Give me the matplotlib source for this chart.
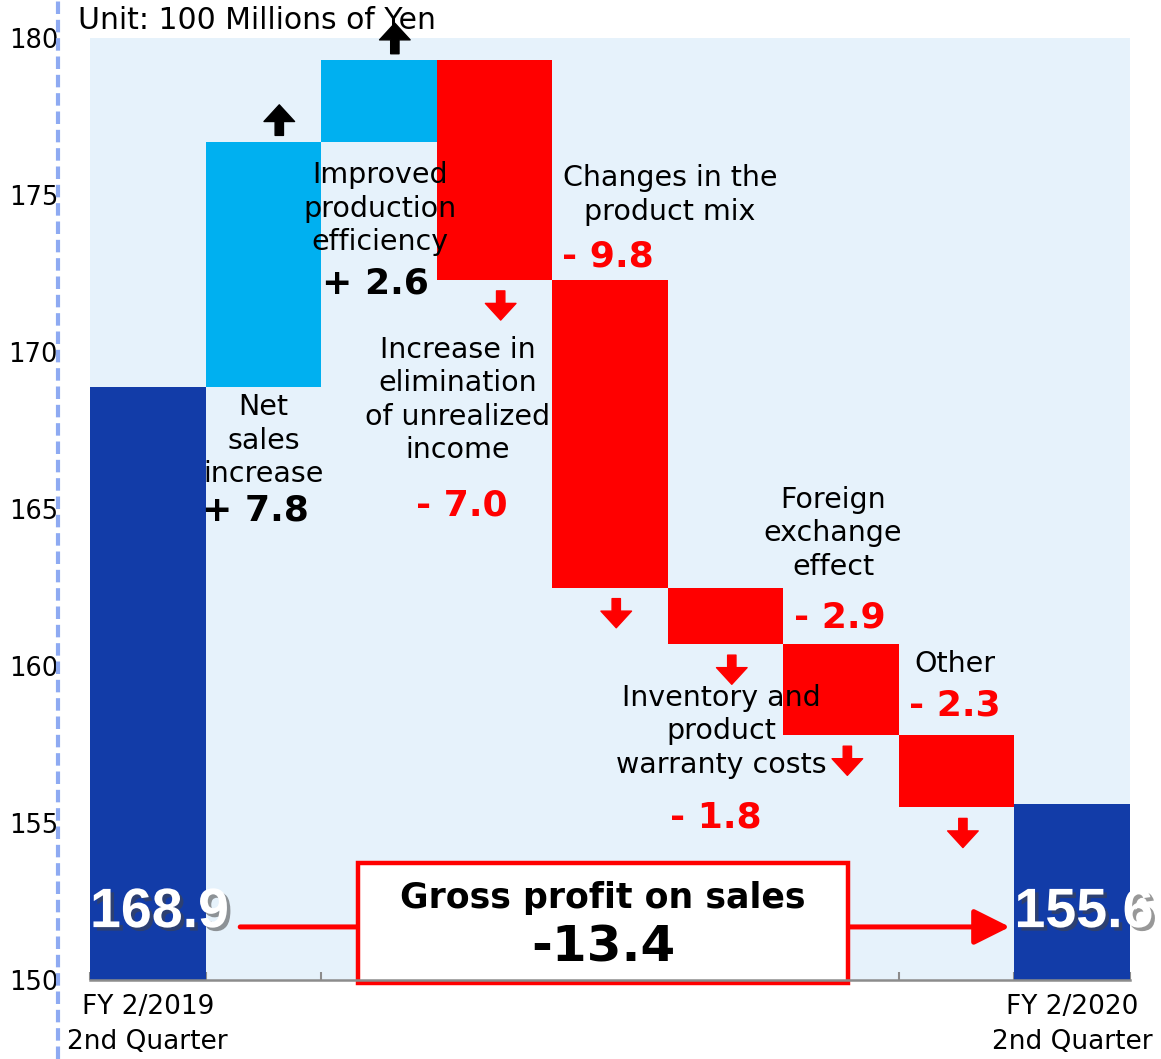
import matplotlib
matplotlib.use("Agg")
import matplotlib.pyplot as plt
import matplotlib.patheffects as pe
from matplotlib.patches import Rectangle
from matplotlib.transforms import offset_copy

plt.rcParams['font.family'] = ['DejaVu Sans']

# 売上総利益の増減要因（単位：億円）
start_value = 168.9
end_value = 155.6
changes = [7.8, 2.6, -7.0, -9.8, -1.8, -2.9, -2.3]
change_names = ['Net\nsales\nincrease',
                'Improved\nproduction\nefficiency',
                'Increase in\nelimination\nof unrealized\nincome',
                'Changes in the\nproduct mix',
                'Inventory and\nproduct\nwarranty costs',
                'Foreign\nexchange\neffect',
                'Other']
change_labels = ['+ 7.8', '+ 2.6', '- 7.0', '- 9.8', '- 1.8', '- 2.9', '- 2.3']
total_change = '-13.4'
period_labels = ['FY 2/2019\n2nd Quarter', 'FY 2/2020\n2nd Quarter']

DARK_BLUE = '#123ca8'
LIGHT_BLUE = '#00b0f0'
RED = '#ff0000'
BG = '#e6f2fb'

fig = plt.figure(figsize=(11.61, 10.59), dpi=100)
ax = fig.add_axes([0.0775, 0.0746, 0.8958, 0.8895])
ax.set_facecolor(BG)

# 期首・期末の棒
n = len(changes) + 2
ax.bar(0, start_value - 150, bottom=150, width=1.0, color=DARK_BLUE, zorder=3)
ax.bar(n - 1, end_value - 150, bottom=150, width=1.0, color=DARK_BLUE, zorder=3)

# 増減の浮動棒
level = start_value
spans = []
for i, c in enumerate(changes, start=1):
    bottom = level if c > 0 else level + c
    ax.bar(i, abs(c), bottom=bottom, width=1.0,
           color=LIGHT_BLUE if c > 0 else RED, zorder=3)
    level += c
    spans.append((bottom, bottom + abs(c)))

ax.set_xlim(-0.5, n - 0.5)
ax.set_ylim(150, 180)

# 増減方向の矢印
arrow_style = 'simple,head_length=0.6,head_width=1.1,tail_width=0.3'
for i, (c, (lo, hi)) in enumerate(zip(changes, spans), start=1):
    if c > 0:
        tr = offset_copy(ax.transData, fig=fig, x=11.5, y=26.5, units='points')
        ax.annotate('', xy=(i, hi), xycoords=tr, xytext=(0, -22),
                    textcoords='offset points',
                    arrowprops=dict(arrowstyle=arrow_style, color='black',
                                    mutation_scale=20, shrinkA=0, shrinkB=0),
                    annotation_clip=False, zorder=5)
    else:
        tr = offset_copy(ax.transData, fig=fig, x=4.5, y=-29, units='points')
        ax.annotate('', xy=(i, lo), xycoords=tr, xytext=(0, 21),
                    textcoords='offset points',
                    arrowprops=dict(arrowstyle=arrow_style, color=RED,
                                    mutation_scale=20, shrinkA=0, shrinkB=0),
                    annotation_clip=False, zorder=5)

# 要因名と金額
name_pos = [(1.0, 167.18), (2.01, 174.56), (2.685, 168.47), (4.52, 175.0),
            (4.96, 157.92), (5.93, 164.22), (6.985, 160.05)]
value_pos = [(0.93, 164.95), (1.966, 172.18), (2.72, 165.11), (3.98, 173.04),
             (4.92, 155.19), (5.99, 161.55), (6.985, 158.75)]
for c, name, lab, (nx, ny), (vx, vy) in zip(changes, change_names, change_labels,
                                           name_pos, value_pos):
    ax.text(nx, ny, name, ha='center', va='center', fontsize=20.5,
            linespacing=1.25, color='black', zorder=6)
    ax.text(vx, vy, lab, ha='center', va='center', fontsize=26,
            fontweight='bold', color='black' if c > 0 else RED, zorder=6)

# 期首・期末の数値
shadow = [pe.withSimplePatchShadow(offset=(2.5, -2.5), shadow_rgbFace='#444444', alpha=0.55)]
for x, v in [(-0.5, start_value), (n - 1.5, end_value)]:
    ax.text(x, 152.13, f'{v:.1f}', ha='left', va='center', fontsize=40,
            fontweight='bold', family='Liberation Sans', color='white',
            zorder=7, path_effects=shadow, clip_on=False)

# 増減合計の矢印と枠
ax.annotate('', xy=(7.46, 151.69), xytext=(0.8, 151.69),
            arrowprops=dict(arrowstyle='-|>,head_length=1.1,head_width=0.55',
                            color=RED, lw=3.6, mutation_scale=20,
                            shrinkA=0, shrinkB=0),
            zorder=6)
ax.add_patch(Rectangle((1.818, 149.9), 4.24, 3.82, facecolor='white',
                       edgecolor=RED, lw=3.2, zorder=8, clip_on=False))
ax.text(3.94, 152.6, 'Gross profit on sales', ha='center', va='center',
        fontsize=25, fontweight='bold', zorder=9)
ax.text(3.94, 151.05, total_change, ha='center', va='center',
        fontsize=36, fontweight='bold', zorder=9)

# 軸の体裁
for s in ['left', 'top', 'right']:
    ax.spines[s].set_visible(False)
ax.spines['bottom'].set_color('#8c8c8c')
ax.spines['bottom'].set_linewidth(1.8)
ax.spines['bottom'].set_zorder(9)
ax.set_yticks(range(150, 181, 5))
ax.tick_params(axis='y', length=0, pad=23, labelsize=18.5)
ax.set_xticks([0, n - 1])
ax.set_xticklabels(period_labels, fontsize=19, linespacing=1.45)
ax.set_xticks([x - 0.5 for x in range(n + 1)], minor=True)
ax.tick_params(axis='x', which='major', length=0, pad=10)
ax.tick_params(axis='x', which='minor', direction='in', length=6,
               width=1.5, color='#8c8c8c')

fig.add_artist(plt.Line2D([0.05, 0.05], [0, 1], transform=fig.transFigure,
                          color='#8eaaf2', lw=3, linestyle=(0, (3, 1.4))))
fig.text(0.067, 0.981, 'Unit: 100 Millions of Yen', ha='left', va='center',
         fontsize=21.5)

fig.savefig('out.png', dpi=100)
